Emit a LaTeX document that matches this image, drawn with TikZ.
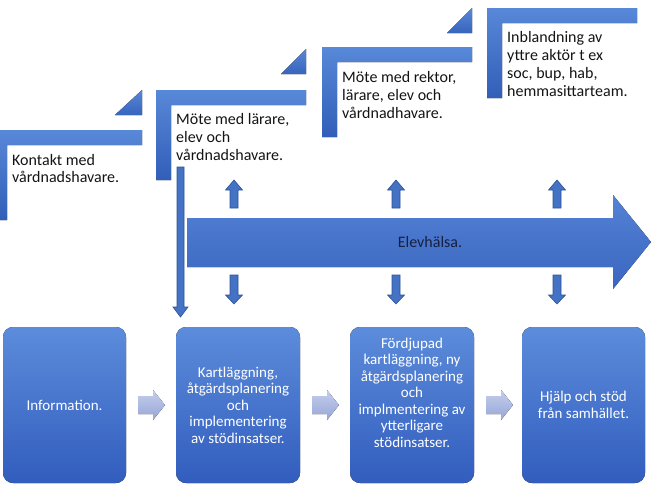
\documentclass[tikz,border=0pt]{standalone}
\usepackage{fontspec}
\setmainfont{Carlito}
\definecolor{lT}{RGB}{88,136,216}
\definecolor{lB}{RGB}{50,94,184}
\definecolor{bT}{RGB}{92,140,219}
\definecolor{bB}{RGB}{50,93,190}
\definecolor{aT}{RGB}{84,130,213}
\definecolor{aB}{RGB}{58,102,192}
\definecolor{cT}{RGB}{196,206,236}
\definecolor{cB}{RGB}{150,166,214}
\definecolor{sFill}{RGB}{68,114,196}
\definecolor{sLine}{RGB}{47,82,150}
\definecolor{navy}{RGB}{22,32,64}
\definecolor{txt}{RGB}{20,20,20}
\begin{document}
\begin{tikzpicture}[x=1pt,y=-1pt,
  lshape/.style={top color=lT,bottom color=lB,draw=none},
  tri/.style={top color=lT,bottom color=lB!85!lT,draw=none},
  stagebox/.style={top color=bT,bottom color=bB,draw=none},
  chev/.style={top color=cT,bottom color=cB,draw=none},
  blockarr/.style={fill=sFill,draw=sLine,line width=0.6pt,line join=miter},
  toptext/.style={anchor=west,inner sep=0pt,align=left,text=txt,font=\fontsize{16}{17.8}\selectfont},
  boxtext/.style={inner sep=0pt,align=center,text=white,font=\fontsize{15}{16.5}\selectfont}]
\useasboundingbox (0,0) rectangle (652,493);

% step shapes (L brackets)
\fill[lshape] (-8,130) -- (142,130) -- (142,145) -- (7,145) -- (7,220) -- (-8,220) -- cycle;
\fill[lshape] (156,90) -- (306,90) -- (306,105) -- (171,105) -- (171,180) -- (156,180) -- cycle;
\fill[lshape] (322,47) -- (472,47) -- (472,62) -- (337,62) -- (337,137) -- (322,137) -- cycle;
\fill[lshape] (487,8) -- (637,8) -- (637,23) -- (502,23) -- (502,98) -- (487,98) -- cycle;
% small triangles
\fill[tri] (115,115) -- (142,90) -- (142,115) -- cycle;
\fill[tri] (281,74) -- (306,49) -- (306,74) -- cycle;
\fill[tri] (447,33) -- (472,8) -- (472,33) -- cycle;

% step texts
\node[toptext] (s1) at (12,168.5) {Kontakt med\\vårdnadshavare.};
\node[toptext] (s2) at (176,137) {Möte med lärare,\\elev och\\vårdnadshavare.};
\node[toptext] (s3) at (342,95) {Möte med rektor,\\lärare, elev och\\vårdnadhavare.};
\node[toptext] (s4) at (507,64) {Inblandning av\\yttre aktör t ex\\soc, bup, hab,\\hemmasittarteam.};

% big arrow Elevhälsa
\fill[top color=aT,bottom color=aB] (187,218) -- (613,218) -- (613,195) -- (651,242) -- (613,289) -- (613,267) -- (187,267) -- cycle;
\node[inner sep=0pt,text=navy,font=\fontsize{16}{18}\selectfont] (elev) at (430,242) {Elevhälsa.};

% long arrow from step 2 down to box 2
\draw[blockarr] (177,167) -- (184,167) -- (184,307) -- (188,307) -- (180.5,317) -- (173,307) -- (177,307) -- cycle;

% small up / down arrows
\foreach \cx/\nm in {234/a,396/b,557/c}{
  \draw[blockarr] (\cx-4,208) -- (\cx-4,190) -- (\cx-8.5,190) -- (\cx,180) -- (\cx+8.5,190) -- (\cx+4,190) -- (\cx+4,208) -- cycle;
  \draw[blockarr] (\cx-4,275) -- (\cx-4,295) -- (\cx-8.5,295) -- (\cx,304) -- (\cx+8.5,295) -- (\cx+4,295) -- (\cx+4,275) -- cycle;
}

% bottom boxes
\fill[stagebox,rounded corners=10pt] (3,327) rectangle (126,483);
\fill[stagebox,rounded corners=10pt] (176,327) rectangle (300,483);
\fill[stagebox,rounded corners=10pt] (350,327) rectangle (474,483);
\fill[stagebox,rounded corners=10pt] (522,327) rectangle (645,483);
\node[boxtext] (b1) at (64.5,405) {Information.};
\node[boxtext] (b2) at (238,405) {Kartläggning,\\åtgärdsplanering\\och\\implementering\\av stödinsatser.};
\node[boxtext] (b3) at (412,392.5) {Fördjupad\\kartläggning, ny\\åtgärdsplanering\\och\\implmentering av\\ytterligare\\stödinsatser.};
\node[boxtext] (b4) at (583.5,405) {Hjälp och stöd\\från samhället.};

% chevron arrows between boxes
\foreach \x in {138,312,486}{
  \fill[chev] (\x,396) -- (\x+15,396) -- (\x+15,390) -- (\x+27,405) -- (\x+15,420) -- (\x+15,414) -- (\x,414) -- cycle;
}
\end{tikzpicture}
\end{document}
